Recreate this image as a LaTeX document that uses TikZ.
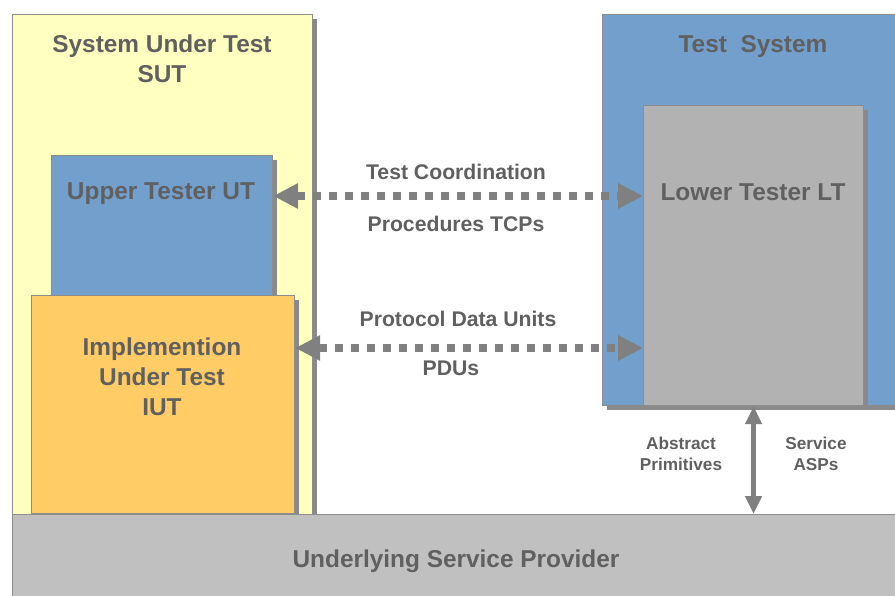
\documentclass[tikz,border=0pt]{standalone}
\usepackage{fontspec}
\setmainfont{Liberation Sans}
\usetikzlibrary{arrows.meta,shadows,calc}
\definecolor{suty}{RGB}{255,255,192}
\definecolor{bluebox}{RGB}{114,159,204}
\definecolor{orangebox}{RGB}{255,204,102}
\definecolor{ltgray}{RGB}{178,178,178}
\definecolor{uspgray}{RGB}{192,192,192}
\definecolor{boxline}{RGB}{140,140,140}
\definecolor{shadowgray}{RGB}{138,138,138}
\definecolor{txt}{RGB}{96,96,96}
\definecolor{arrowgray}{RGB}{128,128,128}
\begin{document}
\begin{tikzpicture}[x=1pt,y=-1pt,
  box/.style={draw=boxline, line width=1.2pt, inner sep=0pt, anchor=north west,
    drop shadow={shadow xshift=4pt, shadow yshift=-4pt, fill=shadowgray, opacity=1}},
  flatbox/.style={draw=boxline, line width=1.2pt, inner sep=0pt, anchor=north west},
  lbl/.style={text=txt, inner sep=0pt, align=center, font=\bfseries\fontsize{24.4}{30}\selectfont},
  mlbl/.style={text=txt, inner sep=0pt, align=center, font=\bfseries\fontsize{21.2}{26}\selectfont},
  slbl/.style={text=txt, inner sep=0pt, align=center, font=\bfseries\fontsize{17.2}{21}\selectfont},
  dotarrow/.style={draw=arrowgray, line width=8pt, dash pattern=on 8pt off 8pt,
    {Triangle[length=25pt,width=24pt]}-{Triangle[length=25pt,width=24pt]}},
  solidarrow/.style={draw=arrowgray, line width=5pt,
    {Triangle[length=18pt,width=16pt]}-{Triangle[length=18pt,width=16pt]}}
]
\useasboundingbox (0,0) rectangle (895,596);
\clip (0,0) rectangle (895,596);
\fill[white] (0,0) rectangle (895,596);

% System under test
\node[box, fill=suty, minimum width=300pt, minimum height=510pt] (sut) at (12,14) {};
\node[box, fill=bluebox, minimum width=221pt, minimum height=141pt] (ut) at (51,155) {};
\node[box, fill=orangebox, minimum width=263pt, minimum height=218pt] (iut) at (31,295) {};

% Test system
\node[box, fill=bluebox, minimum width=310pt, minimum height=391pt] (ts) at (602,14) {};
\node[box, fill=ltgray, minimum width=220pt, minimum height=300pt] (lt) at (643,105) {};

% Arrows
\draw[dotarrow] ([yshift=-41pt]ut.north east) -- ([yshift=-41pt]ut.north east -| lt.west);
\draw[dotarrow] ([yshift=-53pt]iut.north east) -- ([yshift=-53pt]iut.north east -| lt.west);

% Underlying service provider
\node[flatbox, fill=uspgray, minimum width=900pt, minimum height=90pt] (usp) at (12,514) {};
\draw[solidarrow] (lt.south) -- (lt.south |- usp.north);

% Labels
\node[lbl] (sutlbl) at (162,59) {System Under Test\\SUT};
\node[lbl] (tslbl) at (753,47) {Test\ \ System};
\node[lbl] (utlbl) at (161,194) {Upper Tester UT};
\node[lbl] (ltlbl) at (753,192) {Lower Tester LT};
\node[lbl] (iutlbl) at (162,377) {Implemention\\Under Test\\IUT};
\node[mlbl] (tc1) at (456,172) {Test Coordination};
\node[mlbl] (tc2) at (456,224) {Procedures TCPs};
\node[mlbl] (pdu1) at (458,319) {Protocol Data Units};
\node[mlbl] (pdu2) at (451,368) {PDUs};
\node[slbl] (abs) at (681,454) {Abstract\\Primitives};
\node[slbl] (svc) at (816,454) {Service\\ASPs};
\node[lbl] (usplbl) at (456,561) {Underlying Service Provider};
\end{tikzpicture}
\end{document}
